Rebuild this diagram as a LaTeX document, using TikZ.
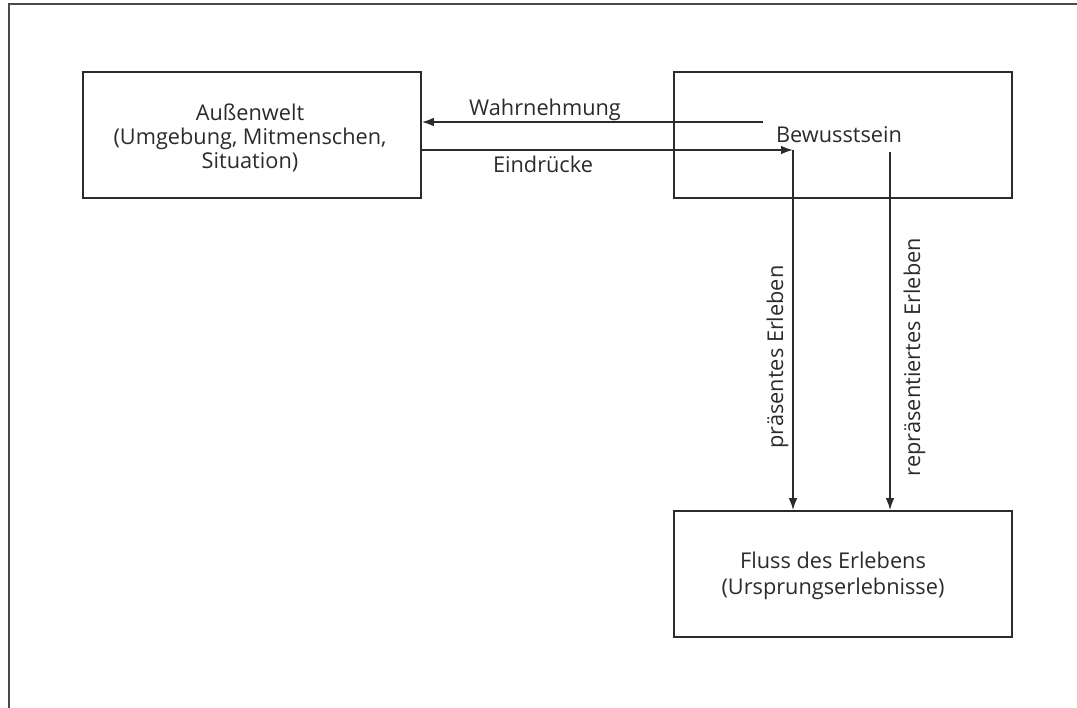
\documentclass[tikz,border=0pt]{standalone}
\usepackage{fontspec}
\setmainfont{Open Sans}
\usetikzlibrary{arrows.meta}
\definecolor{ink}{HTML}{2B2B2B}
\definecolor{frame}{HTML}{4A4A4A}
\tikzset{
  box/.style={draw=ink, line width=1.3pt, minimum width=338*0.75pt, minimum height=126*0.75pt, inner sep=0pt},
  txt/.style={text=ink, font=\fontsize{16.3}{18}\selectfont, align=center, inner sep=0pt},
  arr/.style={draw=ink, line width=1.3pt, -{Latex[length=9pt,width=6.5pt]}},
  ln/.style={draw=ink, line width=1.3pt}
}
\begin{document}
\begin{tikzpicture}[x=0.75pt,y=-0.75pt]
\useasboundingbox (0,0) rectangle (1077,707);
% outer frame (open on the right and at the bottom)
\draw[frame, line width=1.3pt] (9,712) -- (9,4) -- (1082,4);

% boxes
\node[box] (aussen) at (252,135) {};
\node[txt] (aussentext) at (250,138) {Außenwelt\\(Umgebung, Mitmenschen,\\Situation)};
\node[box] (bew) at (843,135) {};
\node[txt, anchor=base] (bewtext) at (839,142) {Bewusstsein};
\node[box] (fluss) at (843,574) {};
\node[txt, font=\fontsize{16.3}{19}\selectfont] (flusstext) at (833,576) {Fluss des Erlebens\\(Ursprungserlebnisse)};

% connectors
\coordinate (w0) at (763,122);
\coordinate (e1) at (793,150);
\coordinate (r0) at (890,152);
\draw[arr] (w0) -- (aussen.east |- w0);
\draw[arr] (aussen.east |- e1) -- (e1);
\draw[arr] (e1) -- (fluss.north -| e1);
\draw[arr] (r0) -- (fluss.north -| r0);

% labels
\node[txt, anchor=base] (wlab) at (545,115) {Wahrnehmung};
\node[txt, anchor=base] (elab) at (543,172) {Eindrücke};
\node[txt, anchor=base, rotate=90] (plab) at (783,357) {präsentes Erleben};
\node[txt, anchor=base, rotate=90] (rlab) at (920,357) {repräsentiertes Erleben};
\end{tikzpicture}
\end{document}
